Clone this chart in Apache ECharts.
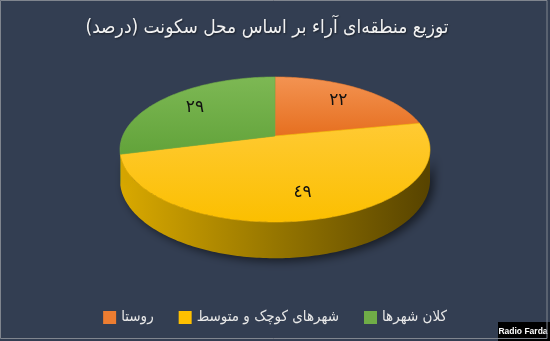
<!DOCTYPE html>
<html>
<head>
<meta charset="utf-8">
<script src="https://cdn.jsdelivr.net/npm/echarts@6/dist/echarts.min.js"></script>
<style>
  html, body { margin: 0; padding: 0; background: #333e52; }
  #chart { width: 550px; height: 341px; }
</style>
</head>
<body>
<div id="chart"></div>
<script>
// Regional distribution of votes by place of residence (percent)
const titleText = 'توزیع منطقه\u200Cای آراء بر اساس محل سکونت (درصد)';
const categories = ['روستا', 'شهرهای کوچک و متوسط', 'کلان شهرها'];
const shares = [22, 49, 29];

// Slice styling, in the same order as the categories
const baseColors = ['#ed7d31', '#ffc000', '#70ad47'];
const topGradients = [
  ['#f39352', '#e66f1f'],
  ['#ffca33', '#fbbf00'],
  ['#7db854', '#62a33a']
];
const sideGradients = [
  ['#b85a1c', '#7a3a10'],
  ['#d8a800', '#967600', '#584400'],
  ['#5a8f38', '#3d6326']
];

// Perspective view of a tilted disk
const PIE = { cx: 275, cy: 136, A: 152.3, B: 70, k: 0.186, h: 29.5 };
const total = shares.reduce((a, b) => a + b, 0);
const starts = [];
shares.reduce((acc, v, i) => { starts[i] = acc; return acc + v; }, 0);

// angle in degrees, clockwise from the far edge; r as a fraction of radius
function proj(theta, r) {
  const t = theta * Math.PI / 180;
  const u = r * Math.sin(t), v = -r * Math.cos(t);
  const w = 1 - PIE.k * v;
  return [PIE.cx + PIE.A * u / w, PIE.cy + PIE.B * v / w, w];
}
function arc(a, b) {
  const pts = [];
  const n = Math.max(2, Math.ceil(Math.abs(b - a)));
  for (let j = 0; j <= n; j++) pts.push(proj(a + (b - a) * j / n, 1));
  return pts;
}
// the wall is visible between the two silhouette points
const wallFrom = 180 - Math.acos(PIE.k) * 180 / Math.PI;
const wallTo = 360 - wallFrom;

const toDigits = v => String(v).replace(/\d/g, d => '٠١٢٣٤٥٦٧٨٩'[d]);

function makeRender(i) {
  return function (params, api) {
    const value = api.value(0);
    const a = starts[i] / total * 360;
    const b = a + value / total * 360;
    const children = [];

    // side wall
    const sa = Math.max(a, wallFrom), sb = Math.min(b, wallTo);
    if (sb > sa) {
      const top = arc(sa, sb);
      const bottom = top.slice().reverse().map(p => [p[0], p[1] + PIE.h / p[2]]);
      const g = sideGradients[i];
      const stops = g.map((c, j) => ({ offset: j / (g.length - 1), color: c }));
      children.push({
        type: 'polygon',
        z2: 1,
        shape: { points: top.map(p => [p[0], p[1]]).concat(bottom) },
        style: {
          fill: { type: 'linear', x: PIE.cx - PIE.A, y: 0, x2: PIE.cx + PIE.A, y2: 0, global: true, colorStops: stops },
          shadowBlur: 10, shadowColor: 'rgba(0,0,0,0.55)', shadowOffsetX: 4, shadowOffsetY: 3
        }
      });
    }

    // top face
    const c0 = proj(0, 0);
    const face = [[c0[0], c0[1]]].concat(arc(a, b).map(p => [p[0], p[1]]));
    children.push({
      type: 'polygon',
      z2: 5,
      shape: { points: face },
      style: {
        fill: { type: 'linear', x: 0, y: 0, x2: 0, y2: 1, colorStops: [
          { offset: 0, color: topGradients[i][0] }, { offset: 1, color: topGradients[i][1] }] },
        stroke: baseColors[i], lineWidth: 0.6
      }
    });

    // value label
    const lp = proj((a + b) / 2, 0.72);
    children.push({
      type: 'text',
      z2: 10,
      style: {
        text: toDigits(value), x: lp[0], y: lp[1],
        fill: '#111', font: '17px "DejaVu Sans"', align: 'center', verticalAlign: 'middle'
      }
    });
    return { type: 'group', children };
  };
}

const chart = echarts.init(document.getElementById('chart'), null, { renderer: 'canvas' });
chart.setOption({
  backgroundColor: '#333e52',
  animation: false,
  title: {
    text: '\u200F' + titleText + '\u200F',
    left: 262, top: 14, textAlign: 'center',
    textStyle: {
      color: '#f2f2f2', fontSize: 19, fontWeight: 'normal', fontFamily: '"DejaVu Sans Condensed", "DejaVu Sans"',
      textShadowColor: 'rgba(0,0,0,0.5)', textShadowBlur: 2, textShadowOffsetX: 1, textShadowOffsetY: 1
    }
  },
  legend: {
    data: categories,
    left: 'center', top: 305,
    icon: 'rect', itemWidth: 13, itemHeight: 13, itemGap: 25,
    textStyle: { color: '#e8e8e8', fontSize: 15, fontFamily: '"DejaVu Sans Condensed", "DejaVu Sans"' }
  },
  graphic: [
    {
      type: 'rect', z: 100,
      shape: { x: 0.5, y: 0.5, width: 546.5, height: 338 },
      style: { fill: null, stroke: '#80858e', lineWidth: 1 }
    },
    {
      type: 'group', z: 101,
      children: [
        { type: 'rect', shape: { x: 498, y: 322, width: 52, height: 19 }, style: { fill: '#000' } },
        { type: 'text', style: { text: 'Radio Farda', x: 523, y: 332, align: 'center', verticalAlign: 'middle',
          fill: '#fff', font: 'bold 8.5px "Liberation Sans"' } }
      ]
    }
  ],
  series: categories.map((name, i) => ({
    type: 'custom',
    name,
    coordinateSystem: 'none',
    itemStyle: { color: baseColors[i] },
    data: [shares[i]],
    renderItem: makeRender(i)
  }))
});
</script>
</body>
</html>
